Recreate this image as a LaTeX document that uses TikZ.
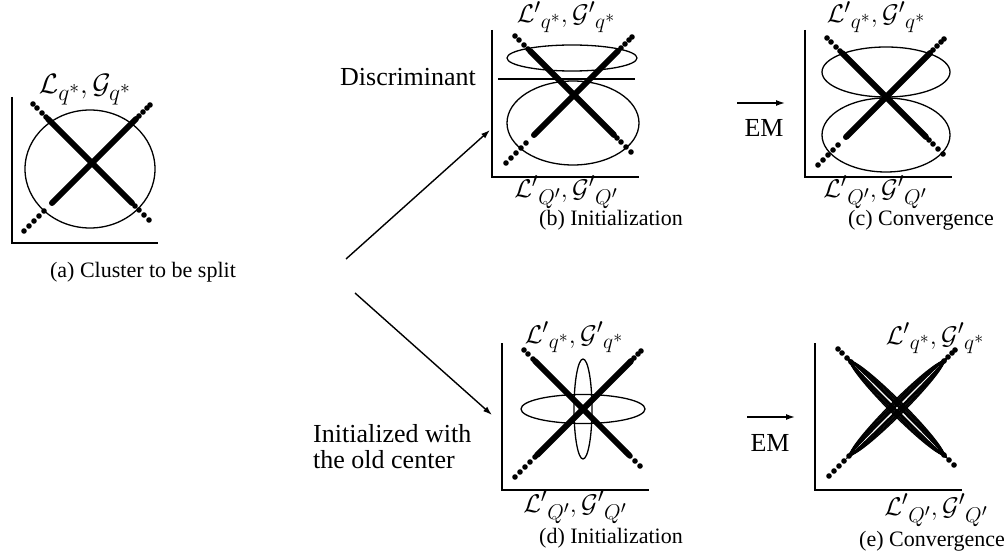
\documentclass[tikz,border=0pt]{standalone}
\usepackage{fontspec}
\setmainfont{Liberation Serif}
\usetikzlibrary{arrows.meta}
\tikzset{
  axis/.style={line width=1.8pt},
  clus/.style={line width=1.3pt},
  flow/.style={line width=1.4pt, -{Latex[length=9pt,width=6pt]}},
  band/.style={line width=6pt, line cap=round},
  thin ell/.style={line width=1.2pt},
  captext/.style={font=\fontsize{22}{26}\selectfont, inner sep=0pt},
  bigtext/.style={font=\fontsize{26}{26}\selectfont, inner sep=0pt, align=left},
  labtext/.style={font=\fontsize{24.88}{28}\selectfont, inner sep=0pt, anchor=base},
}
\newcommand\mylab[1]{\scalebox{1.03}{$#1$}}
\newcommand\XDots{%
  \foreach \d in {-59,-55,-50,-46,43,47,52,57} \fill (\d,\d) circle (2.8);
  \foreach \d in {-68,-63,-58,-53,-48,47,51,55,58} \fill (\d,-\d) circle (2.8);
}
\newcommand\XBand[2]{%
  \draw[band] (-#1,-#1) -- (#2,#2);
  \draw[band] (-#2,#2) -- (#1,-#1);
}
\begin{document}
\begin{tikzpicture}[x=1pt,y=-1pt]
\useasboundingbox (0,0) rectangle (1006,556);

% ---------- panel (a)
\draw[axis] (12,97) -- (12,243) -- (158,243);
\draw[clus] (90,169) ellipse [x radius=65, y radius=59];
\begin{scope}[shift={(92,163)}]
  \XDots \XBand{44}{40}
\end{scope}
\node[labtext] (la) at (85,94) {\scalebox{1.13}{$\mathcal{L}_{q^*},\mathcal{G}_{q^*}$}};
\node[captext] (ca) at (143,272) {(a) Cluster to be split};

% ---------- panel (b)
\draw[axis] (492,30) -- (492,177) -- (639,177);
\draw[clus] (572,58) ellipse [x radius=65, y radius=13];
\draw[axis] (498,79) -- (635,79);
\draw[clus] (573,123) ellipse [x radius=66, y radius=42];
\begin{scope}[shift={(574,95)}]
  \XDots \XBand{44}{40}
\end{scope}
\node[labtext] (lbt) at (566,23) {\mylab{\mathcal{L}'{}_{q^*},\mathcal{G}'{}_{q^*}}};
\node[labtext] (lbb) at (566,197) {\mylab{\mathcal{L}'{}_{Q'},\mathcal{G}'{}_{Q'}}};
\node[captext] (cb) at (611,220) {(b) Initialization};

% ---------- panel (c)
\draw[axis] (805,30) -- (805,177) -- (952,177);
\draw[clus] (886,72) ellipse [x radius=64, y radius=25];
\draw[clus] (886,135) ellipse [x radius=64, y radius=37];
\begin{scope}[shift={(886,97)}]
  \XDots \XBand{44}{40}
\end{scope}
\node[labtext] (lct) at (876,23) {\mylab{\mathcal{L}'{}_{q^*},\mathcal{G}'{}_{q^*}}};
\node[labtext] (lcb) at (875,197) {\mylab{\mathcal{L}'{}_{Q'},\mathcal{G}'{}_{Q'}}};
\node[captext] (cc) at (921,220) {(c) Convergence};

% ---------- panel (d)
\draw[axis] (502,343) -- (502,490) -- (649,490);
\begin{scope}[shift={(583,409)}]
  \XDots \XBand{48}{46}
\end{scope}
\draw[clus] (583,409) ellipse [x radius=62, y radius=14.5];
\draw[clus] (583,409) ellipse [x radius=9, y radius=50];
\node[labtext] (ldt) at (574,343) {\mylab{\mathcal{L}'{}_{q^*},\mathcal{G}'{}_{q^*}}};
\node[labtext] (ldb) at (575,512) {\mylab{\mathcal{L}'{}_{Q'},\mathcal{G}'{}_{Q'}}};
\node[captext] (cd) at (611,538) {(d) Initialization};

% ---------- panel (e)
\draw[axis] (815,343) -- (815,490) -- (962,490);
\begin{scope}[shift={(897,408)}]
  \XDots
  \foreach \r/\w in {68/2, 70/4, 66/6, 69/3, 67/5, 65/7, 70/1.5} {
    \draw[thin ell, rotate=45] (0,0) ellipse [x radius=\r, y radius=\w];
    \draw[thin ell, rotate=-45] (0,0) ellipse [x radius=\r, y radius=\w];
  }
\end{scope}
\node[labtext] (let) at (935,344) {\mylab{\mathcal{L}'{}_{q^*},\mathcal{G}'{}_{q^*}}};
\node[labtext] (leb) at (936,515) {\mylab{\mathcal{L}'{}_{Q'},\mathcal{G}'{}_{Q'}}};
\node[captext] (ce) at (932,541) {(e) Convergence};

% ---------- connectors and texts
\coordinate (split) at (346,259);
\coordinate (bin) at (490,130);
\coordinate (split2) at (355,293);
\coordinate (din) at (492,415);
\draw[flow] (split) -- (bin);
\draw[flow] (split2) -- (din);
\node[bigtext, anchor=base west] (disc) at (340,86) {Discriminant};
\node[bigtext, anchor=west] (init) at (313,447) {Initialized with\\the old center};

\coordinate (em1s) at (737,103);
\coordinate (em1e) at (785,103);
\draw[flow] (em1s) -- (em1e);
\node[bigtext] (em1) at (764,128) {EM};
\coordinate (em2s) at (747,417);
\coordinate (em2e) at (795,417);
\draw[flow] (em2s) -- (em2e);
\node[bigtext] (em2) at (770,443) {EM};
\end{tikzpicture}
\end{document}
